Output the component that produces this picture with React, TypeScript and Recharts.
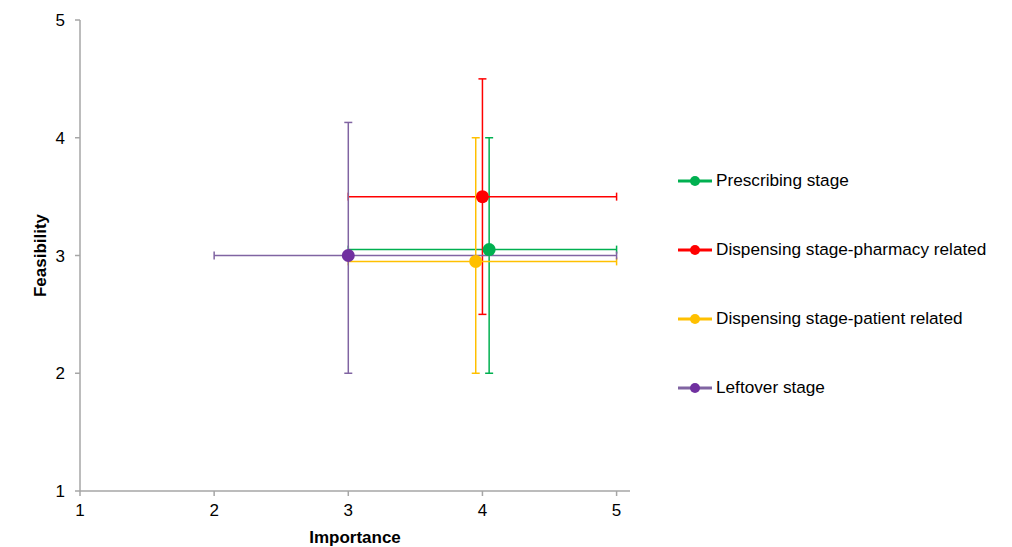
import React from "react";
import {
  ScatterChart,
  Scatter,
  XAxis,
  YAxis,
  ErrorBar,
} from "recharts";

// --- Data ---

const seriesNames = [
  "Prescribing stage",
  "Dispensing stage-pharmacy related",
  "Dispensing stage-patient related",
  "Leftover stage",
];
const seriesColors = ["#00b050", "#ff0000", "#ffc000", "#7030a0"];
const barColors = ["#00b050", "#ff0000", "#ffc000", "#8064a2"];

const importance = [4.05, 4.0, 3.95, 3.0];
const feasibility = [3.05, 3.5, 2.95, 3.0];
const importanceLow = [3, 3, 3, 2];
const importanceHigh = [5, 5, 5, 5];
const feasibilityLow = [2, 2.5, 2, 2];
const feasibilityHigh = [4, 4.5, 4, 4.13];

const axisTicks = [1, 2, 3, 4, 5];

const FONT = "'Liberation Sans', Arial, sans-serif";
const AXIS_GRAY = "#a6a6a6";

const seriesData = seriesNames.map((name, i) => [
  {
    name,
    x: importance[i],
    y: feasibility[i],
    ex: [importance[i] - importanceLow[i], importanceHigh[i] - importance[i]],
    ey: [feasibility[i] - feasibilityLow[i], feasibilityHigh[i] - feasibility[i]],
  },
]);

// --- Legend (drawn beside the plot) ---

const LegendBlock: React.FC = () => (
  <div
    style={{
      position: "absolute",
      left: 678,
      top: 146,
      fontFamily: FONT,
      fontSize: 17.2,
      color: "#000",
    }}
  >
    {seriesNames.map((name, i) => (
      <div
        key={name}
        style={{ display: "flex", alignItems: "center", height: 69 }}
      >
        <svg width={36} height={12} style={{ marginRight: 2 }}>
          <line x1={0} y1={6} x2={34} y2={6} stroke={barColors[i]} strokeWidth={3} />
          <circle cx={17} cy={6} r={5} fill={seriesColors[i]} />
        </svg>
        <span>{name}</span>
      </div>
    ))}
  </div>
);

export default function App() {
  return (
    <div style={{ position: "absolute", left: 0, top: 0, width: 1012, height: 547 }}>
      <ScatterChart
        width={1012}
        height={547}
        margin={{ top: 20, right: 382, bottom: 4, left: 0 }}
      >
        <XAxis
          type="number"
          dataKey="x"
          domain={[1, 5.1]}
          ticks={axisTicks}
          allowDataOverflow
          height={52}
          stroke={AXIS_GRAY}
          strokeWidth={1.5}
          tickSize={5}
          tickMargin={8}
          tick={{ fill: "#000", fontSize: 17, fontFamily: FONT }}
          label={{
            value: "Importance",
            position: "insideBottom",
            offset: 0,
            style: { fill: "#000", fontSize: 17, fontWeight: "bold", fontFamily: FONT },
          }}
        />
        <YAxis
          type="number"
          dataKey="y"
          domain={[1, 5]}
          ticks={axisTicks}
          allowDataOverflow
          width={80}
          stroke={AXIS_GRAY}
          strokeWidth={1.5}
          tickSize={5}
          tickMargin={10}
          tick={{ fill: "#000", fontSize: 17, fontFamily: FONT }}
          label={{
            value: "Feasibility",
            angle: -90,
            position: "insideLeft",
            offset: 40,
            style: {
              fill: "#000",
              fontSize: 17,
              fontWeight: "bold",
              fontFamily: FONT,
              textAnchor: "middle",
            },
          }}
        />
        {seriesData.map((d, i) => (
          <Scatter
            key={seriesNames[i]}
            name={seriesNames[i]}
            data={d}
            fill={seriesColors[i]}
            isAnimationActive={false}
            shape={(p: any) => (
              <circle cx={p.cx} cy={p.cy} r={6.5} fill={seriesColors[i]} />
            )}
          >
            <ErrorBar
              dataKey="ex"
              direction="x"
              width={4}
              stroke={barColors[i]}
              strokeWidth={1.5}
              isAnimationActive={false}
            />
            <ErrorBar
              dataKey="ey"
              direction="y"
              width={4}
              stroke={barColors[i]}
              strokeWidth={1.5}
              isAnimationActive={false}
            />
          </Scatter>
        ))}
      </ScatterChart>
      <LegendBlock />
    </div>
  );
}
